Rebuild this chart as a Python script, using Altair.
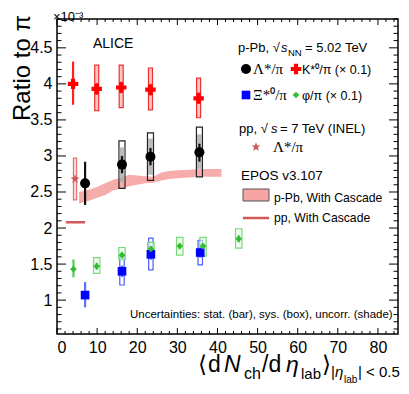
import altair as alt
import pandas as pd
import numpy as np

# ---------------- data (ratio x 1e-3) ----------------
# K*0/pi (x 0.1)
kst_x = [4.0, 9.9, 16.0, 23.3, 35.3]
kst_y = [4.00, 3.93, 3.95, 3.92, 3.80]
kst_stat_lo = [3.71, 3.85, 3.87, 3.84, 3.72]
kst_stat_hi = [4.31, 4.01, 4.03, 4.00, 3.88]
kst_sys_lo = [None, 3.63, 3.67, 3.64, 3.53]
kst_sys_hi = [None, 4.26, 4.26, 4.22, 4.08]

# Lambda*/pi
lam_x = [7.0, 16.2, 23.3, 35.5]
lam_y = [2.62, 2.88, 2.99, 3.05]
lam_stat_lo = [2.32, 2.76, 2.87, 2.92]
lam_stat_hi = [2.92, 3.00, 3.11, 3.17]
lam_sys_lo = [None, 2.55, 2.66, 2.71]
lam_sys_hi = [None, 3.21, 3.32, 3.40]
lam_unc_lo = [None, 2.64, 2.74, 2.82]
lam_unc_hi = [None, 3.12, 3.24, 3.30]

# Xi*0/pi
xi_x = [7.0, 16.2, 23.4, 35.7]
xi_y = [1.07, 1.40, 1.635, 1.66]
xi_stat_lo = [0.90, 1.32, 1.56, 1.59]
xi_stat_hi = [1.25, 1.48, 1.71, 1.73]
xi_sys_lo = [None, 1.21, 1.42, 1.49]
xi_sys_hi = [None, 1.61, 1.86, 1.83]

# phi/pi (x 0.1)
phi_x = [4.1, 9.9, 16.2, 23.4, 30.6, 36.4, 45.3]
phi_y = [1.43, 1.47, 1.625, 1.71, 1.75, 1.75, 1.85]
phi_stat_lo = [1.315, 1.42, 1.58, 1.67, 1.71, 1.71, 1.80]
phi_stat_hi = [1.565, 1.52, 1.67, 1.75, 1.79, 1.79, 1.90]
phi_sys_lo = [None, 1.37, 1.56, 1.60, 1.625, 1.61, 1.72]
phi_sys_hi = [None, 1.59, 1.73, 1.80, 1.87, 1.87, 1.99]

# pp Lambda*/pi
pp_x = [4.5]
pp_y = [2.68]
pp_sys_lo = [2.39]
pp_sys_hi = [2.97]

# EPOS p-Pb band
band_x = [5.5, 8, 10, 12, 14, 16, 18, 20, 22, 24, 26, 28, 30, 33, 36, 39, 41]
band_lo = [2.34, 2.38, 2.42, 2.46, 2.52, 2.55, 2.58, 2.60, 2.62, 2.63, 2.66, 2.68, 2.69, 2.70, 2.71, 2.71, 2.71]
band_hi = [2.50, 2.53, 2.57, 2.62, 2.67, 2.70, 2.74, 2.73, 2.72, 2.71, 2.77, 2.79, 2.80, 2.81, 2.82, 2.82, 2.82]

# EPOS pp line
ppline_x = [2.2, 7.0]
ppline_y = [2.08, 2.08]

x_major = [0, 10, 20, 30, 40, 50, 60, 70, 80]
y_major = [1, 1.5, 2, 2.5, 3, 3.5, 4, 4.5]

# ---------------- layout ----------------
W, H = 341, 315
OX, OY = 57, 19  # page position of plot origin

# 5-point star as a custom symbol path
_pts = []
for i in range(10):
    r = 1.0 if i % 2 == 0 else 0.42
    a = -np.pi / 2 + i * np.pi / 5
    _pts.append(f"{r * np.cos(a):.3f},{r * np.sin(a):.3f}")
STAR = "M" + "L".join(_pts) + "Z"

xscale = alt.Scale(domain=[0, 85], nice=False, zero=False)
yscale = alt.Scale(domain=[0.53, 4.9], nice=False, zero=False)
xaxis = alt.Axis(values=x_major, title=None, grid=False, domain=False, ticks=False,
                 labelFont="Liberation Sans", labelFontSize=16, labelPadding=5, labelColor="black")
yaxis = alt.Axis(values=y_major, title=None, grid=False, domain=False, ticks=False, format="~g",
                 labelFont="Liberation Sans", labelFontSize=16, labelPadding=5, labelColor="black")


def X(f):
    return alt.X(f, type="quantitative", scale=xscale, axis=xaxis)


def Y(f):
    return alt.Y(f, type="quantitative", scale=yscale, axis=yaxis)


def series(xs, ys, slo, shi, ylo=None, yhi=None, ulo=None, uhi=None):
    d = {"x": xs, "y": ys, "slo": slo, "shi": shi}
    n = len(xs)
    d["ylo"] = ylo if ylo is not None else [np.nan] * n
    d["yhi"] = yhi if yhi is not None else [np.nan] * n
    d["ulo"] = ulo if ulo is not None else [np.nan] * n
    d["uhi"] = uhi if uhi is not None else [np.nan] * n
    df = pd.DataFrame(d)
    return df.astype(float)


kst = series(kst_x, kst_y, kst_stat_lo, kst_stat_hi, kst_sys_lo, kst_sys_hi)
lam = series(lam_x, lam_y, lam_stat_lo, lam_stat_hi, lam_sys_lo, lam_sys_hi, lam_unc_lo, lam_unc_hi)
xi = series(xi_x, xi_y, xi_stat_lo, xi_stat_hi, xi_sys_lo, xi_sys_hi)
phi = series(phi_x, phi_y, phi_stat_lo, phi_stat_hi, phi_sys_lo, phi_sys_hi)
pp = pd.DataFrame({"x": pp_x, "y": pp_y, "ylo": pp_sys_lo, "yhi": pp_sys_hi})

BAND_COLOR = "#f6a3a3"
layers = []

# EPOS band
band = pd.DataFrame({"x": band_x, "lo": band_lo, "hi": band_hi})
layers.append(alt.Chart(band).mark_area(color=BAND_COLOR, opacity=0.9).encode(
    x=X("x"), y=Y("lo"), y2="hi"))
# EPOS pp line
ppl = pd.DataFrame({"x": ppline_x, "y": ppline_y})
layers.append(alt.Chart(ppl).mark_line(color="#d05a5a", strokeWidth=2.5).encode(x=X("x"), y=Y("y")))


def boxes(df, hw, stroke, fill, fill_op, lo="ylo", hi="yhi", sw=1.2):
    return alt.Chart(df).transform_filter(f"isValid(datum.{lo}) && isFinite(datum.{lo})").transform_calculate(
        x1=f"datum.x - {hw}", x2=f"datum.x + {hw}").mark_rect(
        stroke=stroke, strokeWidth=sw, fill=fill, fillOpacity=fill_op).encode(
        x=X("x1"), x2="x2", y=Y(lo), y2=hi)


def statbar(df, color, sw=2.2):
    return alt.Chart(df).mark_rule(color=color, strokeWidth=sw).encode(x=X("x"), y=Y("slo"), y2="shi")


# pp star box
layers.append(boxes(pp, 0.4, "#e07070", "#f8d0d0", 0.8))
# boxes
layers.append(boxes(kst, 0.5, "#f03030", "#f8b8b8", 0.8))
layers.append(boxes(lam, 0.75, "#222222", "#ffffff", 0.0))
layers.append(alt.Chart(lam).transform_filter("isValid(datum.ulo) && isFinite(datum.ulo)").transform_calculate(
    x1="datum.x - 0.6", x2="datum.x + 0.6").mark_rect(fill="#aaaaaa", fillOpacity=0.8).encode(
    x=X("x1"), x2="x2", y=Y("ulo"), y2="uhi"))
layers.append(boxes(xi, 0.55, "#4a5cff", "#ffffff", 0.0))
layers.append(boxes(phi, 0.8, "#7ada7a", "#e6f8e6", 0.6))

# stat bars
layers.append(statbar(kst, "#ff2020"))
layers.append(statbar(lam, "#111111"))
layers.append(statbar(xi, "#5a70ff"))
layers.append(statbar(phi, "#55cc55"))

# markers
layers.append(alt.Chart(pp).mark_point(shape=STAR, filled=True, size=90, color="#cc5a5a", opacity=1).encode(
    x=X("x"), y=Y("y")))
layers.append(alt.Chart(kst).mark_point(shape="cross", filled=True, size=110, color="#ff0000", opacity=1).encode(
    x=X("x"), y=Y("y")))
layers.append(alt.Chart(lam).mark_point(shape="circle", filled=True, size=100, color="#000000", opacity=1).encode(
    x=X("x"), y=Y("y")))
layers.append(alt.Chart(xi).mark_point(shape="square", filled=True, size=75, color="#0000ff", opacity=1).encode(
    x=X("x"), y=Y("y")))
layers.append(alt.Chart(phi).mark_point(shape="diamond", filled=True, size=45, color="#33bb33", opacity=1).encode(
    x=X("x"), y=Y("y")))

# inward ticks
x_minor = [v for v in range(0, 86, 2) if v % 10 != 0]
y_minor = [round(0.6 + 0.1 * i, 2) for i in range(0, 44)]
y_minor = [v for v in y_minor if abs(v * 2 - round(v * 2)) > 1e-6]
dfxM = pd.DataFrame({"v": x_major})
dfxm = pd.DataFrame({"v": x_minor})
dfyM = pd.DataFrame({"v": y_major})
dfym = pd.DataFrame({"v": y_minor})
for d, L in [(dfxM, 6), (dfxm, 3)]:
    layers.append(alt.Chart(d).mark_rule(color="black", strokeWidth=1).encode(
        x=X("v"), y=alt.value(H), y2=alt.value(H - L)))
    layers.append(alt.Chart(d).mark_rule(color="black", strokeWidth=1).encode(
        x=X("v"), y=alt.value(0), y2=alt.value(L)))
for d, L in [(dfyM, 9), (dfym, 4.5)]:
    layers.append(alt.Chart(d).mark_rule(color="black", strokeWidth=1).encode(
        y=Y("v"), x=alt.value(0), x2=alt.value(L)))
    layers.append(alt.Chart(d).mark_rule(color="black", strokeWidth=1).encode(
        y=Y("v"), x=alt.value(W), x2=alt.value(W - L)))


# ---------------- texts ----------------
def label(text, px, py, size=13, font="Liberation Sans", style="normal", align="left",
          baseline="alphabetic", color="black", angle=0):
    return alt.Chart(pd.DataFrame({"t": [text]})).mark_text(
        align=align, baseline=baseline, fontSize=size, font=font, fontStyle=style,
        color=color, angle=angle).encode(x=alt.value(px - OX), y=alt.value(py - OY), text="t:N")


def sym(px, py, shape, color, size):
    return alt.Chart(pd.DataFrame({"a": [0]})).mark_point(
        shape=shape, filled=True, size=size, color=color, opacity=1).encode(
        x=alt.value(px - OX), y=alt.value(py - OY))


SERIF = "Liberation Serif"
texts = [
    label("×10⁻³", 53, 21, size=13),
    label("Ratio to π", 23, 68, size=24, angle=270, align="center", baseline="middle"),
    label("ALICE", 93, 48, size=14),
    # legend
    label("p-Pb, √", 238, 52, size=13),
    label("s", 281, 52, size=13, style="italic"),
    label("NN", 288, 56, size=9.5),
    label("= 5.02 TeV", 305, 52, size=13),
    sym(246, 69, "circle", "#000000", 100),
    label("Λ*/π", 253, 74, size=15, font=SERIF),
    sym(296, 69, "cross", "#ff0000", 110),
    label("K*⁰/π (× 0.1)", 302, 74, size=12.5),
    sym(246, 95, "square", "#0000ff", 75),
    label("Ξ*⁰/π", 253, 100, size=15, font=SERIF),
    sym(296, 95, "diamond", "#33bb33", 45),
    label("φ/π (× 0.1)", 302, 100, size=12.5),
    label("pp, √", 239, 133, size=13),
    label("s", 271, 133, size=13, style="italic"),
    label("= 7 TeV (INEL)", 280, 133, size=13),
    sym(256, 147, STAR, "#cc5a5a", 90),
    label("Λ*/π", 273, 152, size=15, font=SERIF),
    label("EPOS v3.107", 241, 180, size=13.5),
    label("p-Pb, With Cascade", 274, 202, size=12.2),
    label("pp, With Cascade", 274, 222, size=12.2),
    label("Uncertainties: stat. (bar), sys. (box), uncorr. (shade)", 130, 318, size=11.5),
    # x title
    label("⟨", 198, 372, size=23),
    label("d", 208, 372, size=23),
    label("N", 224, 372, size=23, style="italic"),
    label("ch", 244, 379, size=16),
    label("/d", 262, 372, size=23),
    label("η", 286, 372, size=23, style="italic"),
    label("lab", 301, 379, size=15),
    label("⟩", 322, 372, size=23),
    label("|", 331, 377, size=15),
    label("η", 335, 377, size=15, style="italic"),
    label("lab", 344, 383, size=10),
    label("| < 0.5", 358, 377, size=15),
]

# legend swatches
sw_band = alt.Chart(pd.DataFrame({"a": [0]})).mark_rect(
    fill=BAND_COLOR, stroke="#555555", strokeWidth=1).encode(
    x=alt.value(243 - OX), x2=alt.value(269 - OX), y=alt.value(189 - OY), y2=alt.value(201 - OY))
sw_line = alt.Chart(pd.DataFrame({"a": [0]})).mark_rule(color="#d05a5a", strokeWidth=2.5).encode(
    x=alt.value(243 - OX), x2=alt.value(269 - OX), y=alt.value(218 - OY))

chart = alt.layer(*layers, *texts, sw_band, sw_line).properties(
    width=W, height=H,
    padding={"left": 49, "top": 11, "right": 3, "bottom": 52},
    autosize="none",
    background="white",
).configure_view(stroke="black", strokeWidth=1.5)

chart.save("out.html", embed_options={"renderer": "svg", "actions": False})
